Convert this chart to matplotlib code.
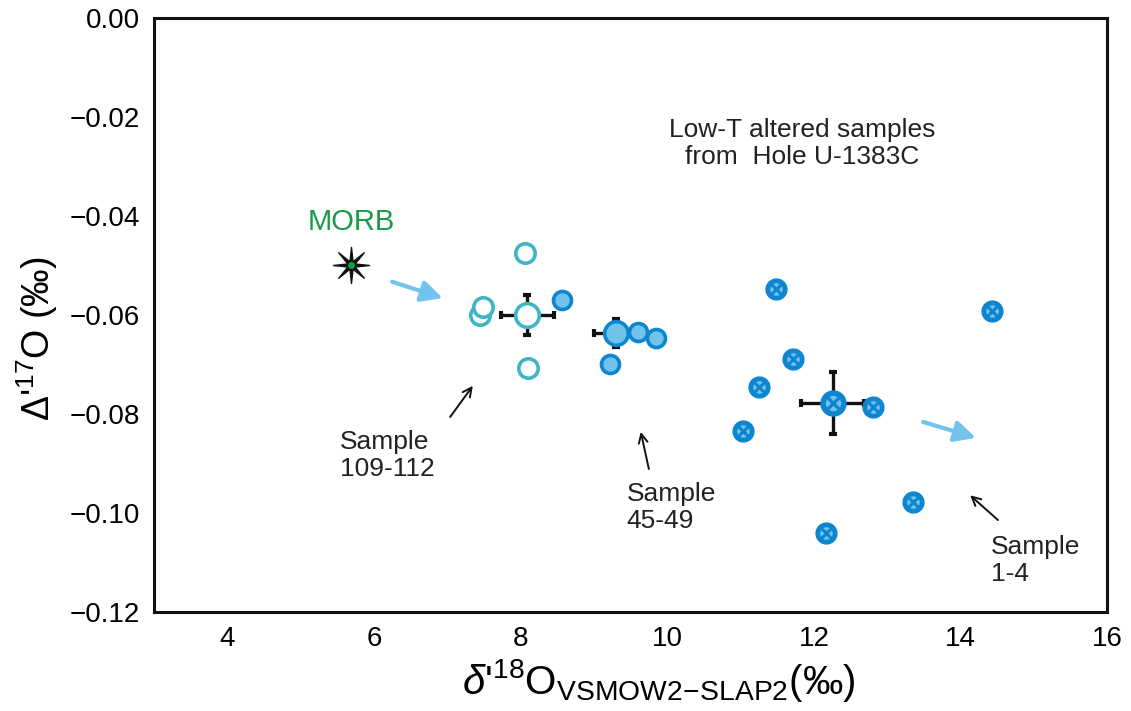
import numpy as np
import matplotlib
matplotlib.use("Agg")
import matplotlib.pyplot as plt
from matplotlib.path import Path

plt.rcParams['font.family'] = ['Liberation Sans', 'DejaVu Sans']
plt.rcParams['mathtext.fontset'] = 'custom'
plt.rcParams['mathtext.rm'] = 'Liberation Sans'
plt.rcParams['mathtext.it'] = 'Liberation Sans:italic'
plt.rcParams['mathtext.bf'] = 'Liberation Sans:bold'

# MORB reference
morb_x = [5.69]
morb_y = [-0.050]

# Sample 109-112 (open teal circles)
s109_x = [7.45, 7.49, 8.06, 8.10]
s109_y = [-0.0600, -0.0584, -0.0475, -0.0707]
s109_mean = (8.09, -0.0600)
s109_err = (0.36, 0.0040)

# Sample 45-49 (filled light blue)
s45_x = [8.57, 9.60, 9.85, 9.22]
s45_y = [-0.0570, -0.0634, -0.0646, -0.0699]
s45_mean = (9.30, -0.0636)
s45_err = (0.30, 0.0028)

# Sample 1-4 (crossed circles)
s1_x = [11.49, 11.72, 11.25, 11.04, 12.80, 14.43, 13.35, 12.17]
s1_y = [-0.0547, -0.0689, -0.0745, -0.0834, -0.0786, -0.0592, -0.0978, -0.1040]
s1_mean = (12.26, -0.0778)
s1_err = (0.43, 0.0063)

xticks = [4, 6, 8, 10, 12, 14, 16]
yticks = [0.00, -0.02, -0.04, -0.06, -0.08, -0.10, -0.12]

teal = '#3db5c4'
light = '#72c3ec'
dark = '#0d86cf'
green = '#1a9a48'

# thin 8-armed star marker
ang = np.arange(16) * np.pi / 8 + np.pi / 2
rad = np.where(np.arange(16) % 2 == 0, 1.0, 0.22)
star_verts = np.column_stack([rad * np.cos(ang), rad * np.sin(ang)])
star = Path(np.vstack([star_verts, star_verts[:1]]), closed=True)

fig = plt.figure(figsize=(11.31, 7.11), dpi=100)
ax = fig.add_axes([0.136, 0.139, 0.843, 0.836])

# error bars of means
for (mx, my), (ex, ey) in [(s109_mean, s109_err), (s45_mean, s45_err), (s1_mean, s1_err)]:
    ax.errorbar(mx, my, xerr=ex, yerr=ey, fmt='none', ecolor='#111111',
                elinewidth=2.4, capsize=3, capthick=3, zorder=2)

# open teal circles
ax.plot(s109_x, s109_y, 'o', ms=14, mfc='white', mec=teal, mew=2.6, zorder=3)
ax.plot([s109_mean[0]], [s109_mean[1]], 'o', ms=17, mfc='white', mec=teal, mew=2.6, zorder=4)

# filled circles
ax.plot(s45_x, s45_y, 'o', ms=13, mfc=light, mec=dark, mew=2.6, zorder=3)
ax.plot([s45_mean[0]], [s45_mean[1]], 'o', ms=17, mfc=light, mec=dark, mew=2.6, zorder=4)

# crossed circles
ax.plot(s1_x, s1_y, 'o', ms=15, mfc=dark, mec=dark, mew=1, zorder=3)
ax.plot(s1_x, s1_y, 'o', ms=9, mfc=light, mec='none', zorder=3)
ax.plot(s1_x, s1_y, 'x', ms=8, mec=dark, mew=2.2, zorder=3)
ax.plot([s1_mean[0]], [s1_mean[1]], 'o', ms=18, mfc=dark, mec=dark, mew=1, zorder=4)
ax.plot([s1_mean[0]], [s1_mean[1]], 'o', ms=11, mfc=light, mec='none', zorder=4)
ax.plot([s1_mean[0]], [s1_mean[1]], 'x', ms=10, mec=dark, mew=2.4, zorder=4)

# MORB star
ax.plot(morb_x, morb_y, marker=star, ms=26, mfc='#111111', mec='#111111', mew=1, ls='none', zorder=5)
ax.plot(morb_x, morb_y, 'o', ms=5, mfc=green, mec='none', zorder=6)
ax.text(5.10, -0.0428, 'MORB', color=green, fontsize=21, ha='left', va='baseline')

# trend arrows
arrow_blue = dict(arrowstyle='-|>', color=light, lw=3, mutation_scale=32, shrinkA=0, shrinkB=0)
ax.annotate('', xy=(6.94, -0.0566), xytext=(6.25, -0.0533), arrowprops=arrow_blue)
ax.annotate('', xy=(14.21, -0.0848), xytext=(13.49, -0.0816), arrowprops=arrow_blue)

# sample labels
arrow_k = dict(arrowstyle='->', color='#111111', lw=1.4, mutation_scale=16, shrinkA=0, shrinkB=0)
ax.annotate('', xy=(7.35, -0.0743), xytext=(7.04, -0.0806), arrowprops=arrow_k)
ax.annotate('', xy=(9.64, -0.0836), xytext=(9.75, -0.0911), arrowprops=arrow_k)
ax.annotate('', xy=(14.13, -0.0964), xytext=(14.51, -0.1014), arrowprops=arrow_k)
ax.text(5.54, -0.0832, 'Sample\n109-112', fontsize=19, ha='left', va='top', linespacing=1.15, color='#222222')
ax.text(9.45, -0.0937, 'Sample\n45-49', fontsize=19, ha='left', va='top', linespacing=1.15, color='#222222')
ax.text(14.41, -0.1044, 'Sample\n1-4', fontsize=19, ha='left', va='top', linespacing=1.15, color='#222222')
ax.text(11.84, -0.0202, 'Low-T altered samples\nfrom  Hole U-1383C', fontsize=19,
        ha='center', va='top', linespacing=1.15, color='#222222')

ax.set_xlim(3, 16)
ax.set_ylim(-0.12, 0.0)
ax.set_xticks(xticks)
ax.set_yticks(yticks)
ax.set_yticklabels(['%.2f' % v if v == 0 else '\u2212%.2f' % abs(v) for v in yticks])
ax.tick_params(length=0, labelsize=20, pad=10)
for s in ax.spines.values():
    s.set_linewidth(2.2)
    s.set_color('#111111')

ax.set_xlabel(r"$\mathit{\delta}$'$^{18}$O$_{\mathrm{VSMOW2\!-\!SLAP2}}$(‰)", fontsize=29)
ax.xaxis.set_label_coords(0.529, -0.075)
ax.set_ylabel(r"$\Delta$'$^{17}$O (‰)", fontsize=27)
ax.yaxis.set_label_coords(-0.098, 0.46)

fig.savefig('out.png', dpi=100)
